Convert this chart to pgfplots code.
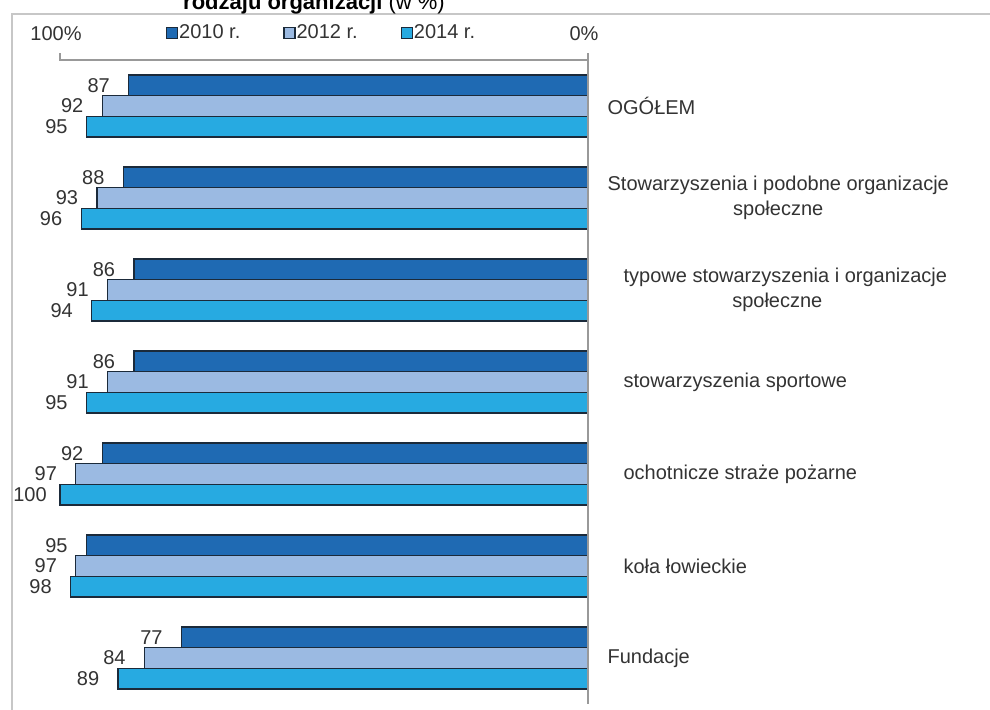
\documentclass[border=0pt]{standalone}
\usepackage{fontspec}
\setmainfont{Liberation Sans}
\usepackage{pgfplots}
\pgfplotsset{compat=1.18}

\definecolor{c2010}{HTML}{1F6AB3}
\definecolor{c2012}{HTML}{9BBAE2}
\definecolor{c2014}{HTML}{27AAE1}
\definecolor{edge}{HTML}{1B2A3A}
\definecolor{txt}{HTML}{333333}

\pgfplotsset{
  sq/.style={legend image code/.code={\draw[##1] (0pt,-2.75pt) rectangle (5.5pt,2.75pt);}},
}
\newcommand{\ind}{\hspace*{8pt}}

\begin{document}
\begin{tikzpicture}
% outer frame (only top/left visible)
\draw[black!22, line width=1pt] (6pt,-7pt) rectangle (505pt,-365pt);
% title, cut off at the top
\node[anchor=base, font=\fontsize{11}{13}\selectfont] at (157pt,-4.75pt)
  {\textbf{rodzaju organizacji} (w \%)};

\begin{axis}[
  at={(30pt,-30pt)}, anchor=north west,
  scale only axis, width=264pt, height=322pt,
  xbar, bar width=10.35pt,
  xmin=0, xmax=100, x dir=reverse,
  ymin=-0.5, ymax=6.5,
  clip=false,
  axis line style={draw=none},
  major tick style={draw=none},
  xtick={0,100}, xticklabels={0\%,100\%},
  xticklabel pos=upper,
  xticklabel style={yshift=6pt, xshift=-2pt},
  ytick={0,...,6},
  yticklabels={Fundacje, \ind koła łowieckie, \ind ochotnicze straże pożarne,
    \ind stowarzyszenia sportowe,
    \ind typowe stowarzyszenia i organizacje\\społeczne,
    Stowarzyszenia i podobne organizacje\\społeczne, OGÓŁEM},
  yticklabel pos=right,
  yticklabel style={anchor=west, align=center, xshift=2pt},
  ticklabel style={font=\fontsize{10}{12.5}\selectfont, text=txt},
  nodes near coords,
  nodes near coords style={anchor=center, xshift=-15pt,
    font=\fontsize{10}{12}\selectfont, text=txt},
  /pgf/number format/assume math mode=true,
  legend style={at={(0.2,1.042)}, anchor=west, draw=none, fill=none,
    inner sep=0pt, legend columns=3,
    font=\fontsize{10}{12}\selectfont, text=txt,
    nodes={inner xsep=0.5pt},
    /tikz/every even column/.append style={column sep=21pt}},
]
\addplot[sq, fill=c2010, draw=edge, line width=0.6pt, bar shift=10.35pt]
  coordinates {(77,0) (95,1) (92,2) (86,3) (86,4) (88,5) (87,6)};
\addplot[sq, fill=c2012, draw=edge, line width=0.6pt, bar shift=0pt]
  coordinates {(84,0) (97,1) (97,2) (91,3) (91,4) (93,5) (92,6)};
\addplot[sq, fill=c2014, draw=edge, line width=0.6pt, bar shift=-10.35pt]
  coordinates {(89,0) (98,1) (100,2) (95,3) (94,4) (96,5) (95,6)};
\legend{2010 r., 2012 r., 2014 r.}

\draw[black!40, line width=0.75pt] ([yshift=3.5pt]axis cs:100,6.5) -- (axis cs:100,6.5)
  -- (axis cs:0,6.5) -- (axis cs:0,-0.5);
\draw[black!40, line width=0.75pt] ([yshift=3.5pt]axis cs:0,6.5) -- (axis cs:0,6.5);
\end{axis}

\pgfresetboundingbox
\useasboundingbox (0,0) rectangle (495pt,-354.5pt);
\end{tikzpicture}
\end{document}
